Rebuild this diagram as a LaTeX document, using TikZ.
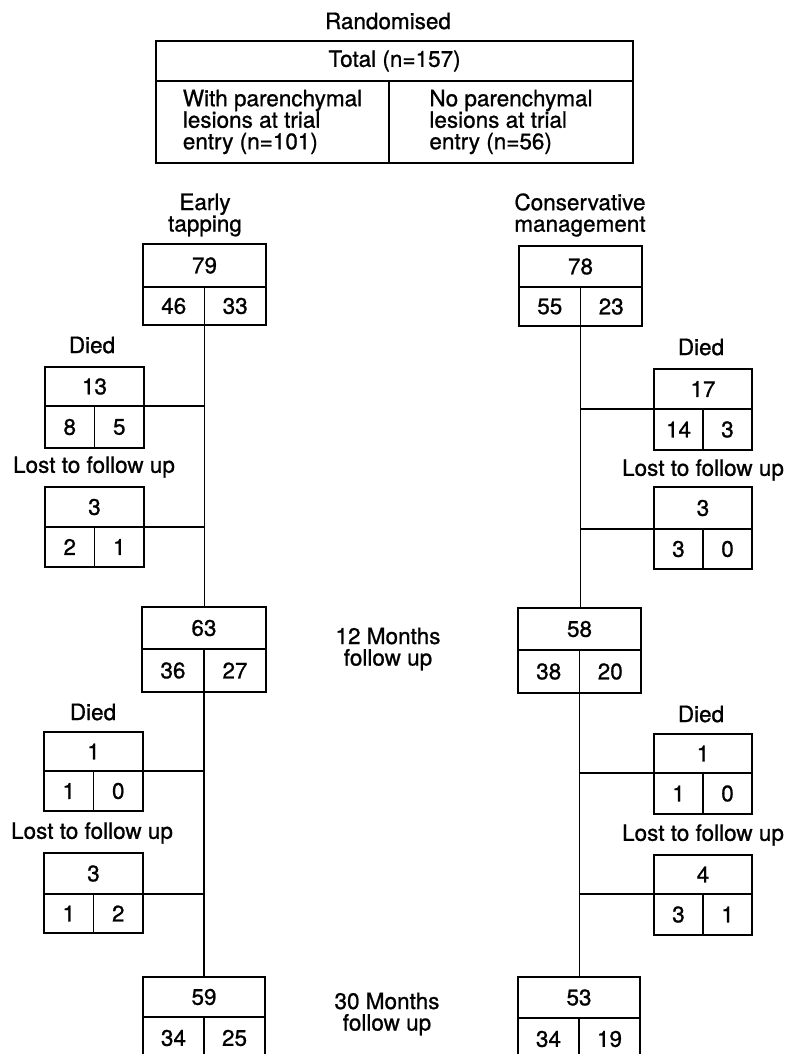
\documentclass[tikz,border=0pt]{standalone}
\usepackage{fontspec}
\setmainfont{TeX Gyre Heros}[FakeBold=0.9]
\newcommand\flowbox[9]{%
  \node[cell, minimum width=#4pt, minimum height=#5pt, anchor=north west] (#1-t) at (#2,#3) {#7};
  \node[cell, minimum width=#4pt/2, minimum height=#6pt, anchor=north west] (#1-a) at (#1-t.south west) {#8};
  \node[cell, minimum width=#4pt/2, minimum height=#6pt, anchor=north west] (#1-b) at (#1-a.north east) {#9};
}
\tikzset{
  cell/.style={draw, rectangle, inner sep=0pt, outer sep=0pt, line width=1.4pt},
  lab/.style={inner sep=0pt, align=center},
  conn/.style={line width=1.4pt}
}
\begin{document}
\begin{tikzpicture}[x=1pt, y=-1pt, font=\fontsize{22.5pt}{21.5pt}\selectfont]
\useasboundingbox (0,0) rectangle (789,1054);
\clip (0,0) rectangle (789,1054);
% top table
\node[lab] (rand) at (388,21) {Randomised};
\node[cell, minimum width=477pt, minimum height=40pt, anchor=north west] (total) at (156,41) {Total (n=157)};
\node[cell, minimum width=233pt, minimum height=82pt, anchor=north west, align=left] (withp) at (total.south west) {With parenchymal\\lesions at trial\\entry (n=101)};
\node[cell, minimum width=244pt, minimum height=82pt, anchor=north west, align=left] (nop) at (withp.north east) {No parenchymal\\lesions at trial\\entry (n=56)};
% column titles
\node[lab] (early) at (205,215) {Early\\tapping};
\node[lab] (cons) at (580,215) {Conservative\\management};
\node[lab] (m12) at (388,649) {12 Months\\follow up};
\node[lab] (m30) at (387,1014) {30 Months\\follow up};
% left column
\flowbox{e0}{143}{244}{123}{43}{38}{79}{46}{33}
\flowbox{e1}{142}{607}{124}{42}{43}{63}{36}{27}
\flowbox{e2}{143}{977}{122}{40}{42}{59}{34}{25}
\flowbox{ed1}{45}{367}{99}{39}{42}{13}{8}{5}
\flowbox{el1}{45}{487}{99}{40}{40}{3}{2}{1}
\flowbox{ed2}{44}{732}{99}{39}{40}{1}{1}{0}
\flowbox{el2}{44}{853}{99}{41}{39}{3}{1}{2}
% right column
\flowbox{c0}{519}{246}{123}{41}{39}{78}{55}{23}
\flowbox{c1}{518}{608}{123}{42}{43}{58}{38}{20}
\flowbox{c2}{518}{977}{122}{41}{42}{53}{34}{19}
\flowbox{cd1}{654}{369}{98}{40}{41}{17}{14}{3}
\flowbox{cl1}{654}{487}{98}{42}{40}{3}{3}{0}
\flowbox{cd2}{654}{734}{98}{39}{41}{1}{1}{0}
\flowbox{cl2}{654}{855}{98}{39}{41}{4}{3}{1}
% side labels
\node[lab] (ed1l) at (92,345) {Died};
\node[lab] (el1l) at (94,467) {Lost to follow up};
\node[lab] (ed2l) at (93,712) {Died};
\node[lab] (el2l) at (92,833) {Lost to follow up};
\node[lab] (cd1l) at (701,347) {Died};
\node[lab] (cl1l) at (703,470) {Lost to follow up};
\node[lab] (cd2l) at (701,714) {Died};
\node[lab] (cl2l) at (703,835) {Lost to follow up};
% connectors
\draw[conn] (e0-a.south east) -- (e0-a.south east |- e1-t.north);
\draw[conn] (e1-a.south east) -- (e1-a.south east |- e2-t.north);
\draw[conn] (c0-a.south east) -- (c0-a.south east |- c1-t.north);
\draw[conn] (c1-a.south east) -- (c1-a.south east |- c2-t.north);
\draw[conn] (ed1-t.south east) -- (ed1-t.south east -| e0-a.south east);
\draw[conn] (el1-t.south east) -- (el1-t.south east -| e0-a.south east);
\draw[conn] (ed2-t.south east) -- (ed2-t.south east -| e1-a.south east);
\draw[conn] (el2-t.south east) -- (el2-t.south east -| e1-a.south east);
\draw[conn] (cd1-t.south west) -- (cd1-t.south west -| c0-a.south east);
\draw[conn] (cl1-t.south west) -- (cl1-t.south west -| c0-a.south east);
\draw[conn] (cd2-t.south west) -- (cd2-t.south west -| c1-a.south east);
\draw[conn] (cl2-t.south west) -- (cl2-t.south west -| c1-a.south east);
\end{tikzpicture}
\end{document}
